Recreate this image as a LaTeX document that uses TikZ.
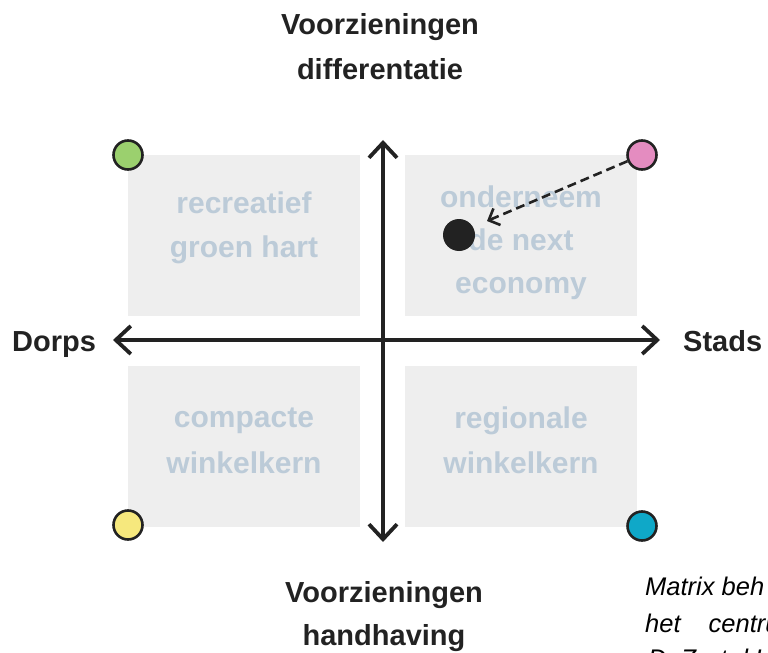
\documentclass[tikz,border=0pt]{standalone}
\usepackage{fontspec}
\setmainfont{Liberation Sans}
\usetikzlibrary{arrows.meta}
\definecolor{boxfill}{RGB}{238,238,238}
\definecolor{boxtext}{RGB}{188,203,216}
\definecolor{ink}{RGB}{34,34,34}
\definecolor{cgreen}{RGB}{155,208,110}
\definecolor{cpink}{RGB}{228,140,192}
\definecolor{cyellow}{RGB}{246,232,125}
\definecolor{ccyan}{RGB}{15,168,200}
\begin{document}
\begin{tikzpicture}[x=1bp,y=-1bp,
  quad/.style={fill=boxfill, draw=none, minimum width=232bp, minimum height=161bp, anchor=north west, inner sep=0pt},
  qtext/.style={anchor=base, text=boxtext, font=\fontsize{30bp}{36bp}\selectfont\bfseries, inner sep=0pt},
  axlabel/.style={anchor=base, text=ink, font=\fontsize{29bp}{35bp}\selectfont\bfseries, inner sep=0pt},
  caption/.style={anchor=base west, text=black, font=\fontsize{25.5bp}{30bp}\selectfont\itshape, inner sep=0pt},
  cornerdot/.style={circle, draw=ink, line width=2.6bp, minimum size=29bp, inner sep=0pt},
  axisline/.style={line width=3.8bp, draw=ink, arrows={Straight Barb[length=15bp,width=28bp]-Straight Barb[length=15bp,width=28bp]}},
  movearrow/.style={line width=2.6bp, draw=ink, dash pattern=on 9bp off 5bp, arrows={-Straight Barb[length=9bp,width=18bp]}}
]
\useasboundingbox (0,0) rectangle (768,653);

% quadrant boxes
\node[quad] (qtl) at (128,155) {};
\node[quad] (qtr) at (405,155) {};
\node[quad] (qbl) at (128,366) {};
\node[quad] (qbr) at (405,366) {};

% quadrant texts
\node[qtext] (tl1) at (244,213) {recreatief};
\node[qtext] (tl2) at (244,257) {groen hart};
\node[qtext] (tr1) at (521,207) {onderneem};
\node[qtext] (tr2) at (521,250) {de next};
\node[qtext] (tr3) at (521,293) {economy};
\node[qtext] (bl1) at (244,427) {compacte};
\node[qtext] (bl2) at (244,473) {winkelkern};
\node[qtext] (br1) at (521,428) {regionale};
\node[qtext] (br2) at (521,473) {winkelkern};

% axes
\coordinate (xl) at (113,340);
\coordinate (xr) at (660,340);
\coordinate (yt) at (383,140);
\coordinate (yb) at (383,542);
\draw[axisline] (xl) -- (xr);
\draw[axisline] (yb) -- (yt);

% axis labels
\node[axlabel] (top1) at (380,35) {Voorzieningen};
\node[axlabel] (top2) at (380,80) {differentatie};
\node[axlabel] (bot1) at (384,602) {Voorzieningen};
\node[axlabel] (bot2) at (384,645) {handhaving};
\node[axlabel, anchor=base west] (dorps) at (12,351) {Dorps};
\node[axlabel, anchor=base west] (stads) at (683,351) {Stads};

% corner circles
\node[cornerdot, fill=cgreen] (green) at (128,155) {};
\node[cornerdot, fill=cpink] (pink) at (642,155) {};
\node[cornerdot, fill=cyellow] (yellow) at (128,525) {};
\node[cornerdot, fill=ccyan] (cyan) at (642,526) {};

% current position
\node[circle, fill=ink, minimum size=32bp, inner sep=0pt] (now) at (459,235) {};
\coordinate (tip) at (487,221);
\draw[movearrow] (pink) -- (tip);

% caption (cut off by the page edge, as in the reference)
\node[caption] (cap1) at (645,595) {Matrix beh};
\node[caption] (cap2) at (645,632) {het\hspace*{28bp}centru};
\node[caption] (cap3) at (648,667) {D\hspace*{14bp}Z\hspace*{24bp}t\hspace*{15bp}l\hspace*{7bp}H};
\end{tikzpicture}
\end{document}
